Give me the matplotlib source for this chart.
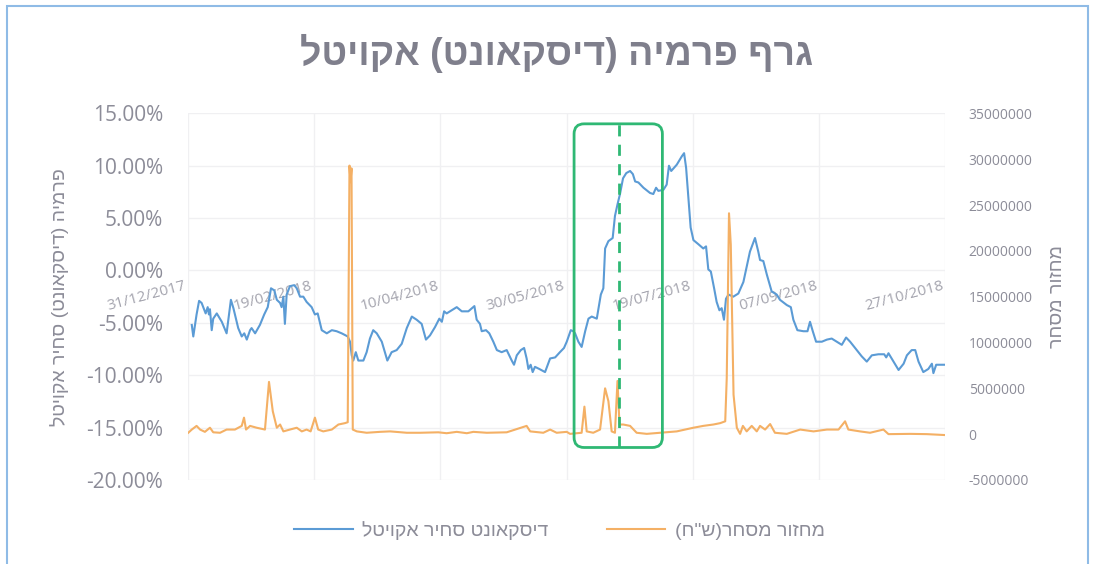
import matplotlib
matplotlib.use("Agg")
import matplotlib.pyplot as plt
from matplotlib.patches import FancyBboxPatch, Rectangle
import pandas as pd

# days after 31/12/2017 and premium/discount (%)
blue_days = [1.5, 2.1, 3.4, 4.4, 5.4, 7.0, 7.8, 8.3, 8.7, 9.4, 10.0, 11.4, 13.4, 15.3, 17.0, 18.0,
             19.9, 21.3, 22.3, 23.3, 24.6, 25.2, 26.6, 28.5, 30.2, 31.6, 32.9, 34.2, 35.2, 36.5,
             37.1, 37.8, 38.4, 39.1, 40.4, 42.1, 43.1, 44.4, 45.7, 47.0, 49.0, 50.3, 51.4, 53.0,
             55.0, 57.0, 58.9, 60.9, 63.3, 64.2, 64.9, 65.5, 66.5, 67.5, 69.5, 70.8, 72.1, 73.4,
             74.8, 76.8, 77.4, 79.0, 80.7, 82.7, 84.7, 86.7, 88.7, 90.6, 92.6, 94.3, 95.9, 97.9,
             99.6, 100.6, 101.5, 102.5, 104.5, 106.5, 108.5, 111.1, 113.5, 114.4, 115.7, 116.4,
             118.1, 119.4, 121.0, 122.4, 124.3, 126.3, 128.3, 129.2, 130.3, 131.9, 133.2, 134.2,
             134.9, 135.8, 136.6, 137.5, 139.2, 141.5, 143.5, 145.5, 147.4, 149.0, 150.1, 151.7,
             152.7, 153.4, 154.7, 156.0, 157.4, 158.7, 160.0, 162.0, 163.6, 164.6, 165.3, 166.6,
             168.3, 169.2, 170.2, 171.2, 172.4, 173.7, 175.2, 176.3, 177.2, 178.5, 180.5, 183.1,
             184.4, 185.5, 186.4, 188.4, 189.7, 190.6, 191.5, 193.7, 195.7, 196.6, 197.4, 198.3,
             199.2, 200.3, 202.3, 204.2, 205.3, 206.2, 207.2, 208.5, 209.5, 210.6, 211.5, 212.4,
             213.2, 214.2, 216.1, 218.1, 220.1, 222.7, 224.7, 226.0, 226.7, 228.0, 229.4, 231.3,
             233.3, 234.6, 237.3, 238.9, 239.9, 241.5, 243.9, 245.5, 246.5, 247.6, 248.9, 251.2,
             253.2, 255.1, 257.1, 259.1, 260.8, 262.4, 265.0, 267.0, 269.0, 271.0, 273.6, 275.9,
             276.7, 277.6, 279.6, 281.6, 283.6, 284.9, 286.8, 288.2, 289.5, 291.4, 293.4, 294.8,
             295.4, 296.5, 298.1, 300.0]
premium = [-5.2, -6.3, -4.2, -2.9, -3.1, -4.1, -3.5, -4.2, -3.7, -5.7, -4.6, -4.1, -4.9, -6.0, -2.8, -3.6,
           -5.5, -6.3, -6.0, -6.6, -5.7, -5.5, -6.0, -5.2, -4.2, -3.5, -1.7, -1.9, -2.8, -3.1,
           -3.5, -2.5, -5.1, -2.3, -1.5, -1.4, -1.7, -2.5, -2.5, -3.0, -3.5, -4.2, -4.1, -5.7,
           -6.0, -5.7, -5.8, -6.0, -6.3, -6.8, -8.1, -8.6, -7.8, -8.6, -8.6, -7.8, -6.5, -5.7,
           -6.0, -6.8, -7.3, -8.6, -7.8, -7.6, -7.0, -5.5, -4.4, -4.7, -5.1, -6.6, -6.2, -5.4,
           -4.6, -4.9, -3.9, -4.1, -3.8, -3.5, -3.9, -3.9, -3.4, -4.7, -5.1, -5.8,
           -5.7, -6.0, -6.8, -7.6, -7.8, -7.6, -8.6, -9.0, -8.1, -7.6, -7.4, -8.4,
           -9.4, -9.0, -9.7, -9.2, -9.4, -9.7, -8.4, -8.3, -7.8, -7.4, -6.8, -5.7,
           -5.8, -6.0, -6.8, -7.3, -5.8, -4.6, -4.4, -4.6, -2.3, -1.7, 2.1, 2.8,
           3.1, 5.2, 6.3, 7.3, 8.8, 9.3, 9.5, 9.2, 8.5, 8.4, 7.9, 7.4,
           7.3, 7.9, 7.6, 7.7, 8.2, 10.0, 9.5, 10.1, 10.9, 11.2, 9.8, 6.9,
           4.1, 2.9, 2.5, 2.1, 2.3, 0.1, -0.1, -1.7, -3.0, -3.8, -3.6, -4.7,
           -2.7, -2.3, -2.5, -2.2, -1.1, 1.8, 3.1, 1.8, 1.0, 0.9, -0.4, -2.0,
           -2.3, -2.8, -3.3, -3.5, -4.7, -5.7, -5.8, -5.8, -4.9, -5.8, -6.8, -6.8,
           -6.6, -6.5, -6.8, -7.1, -6.4, -6.8, -7.6, -8.2, -8.7, -8.1, -8.0, -8.0,
           -8.3, -7.9, -8.7, -9.5, -8.9, -8.1, -7.6, -7.6, -8.7, -9.7, -9.4, -8.9,
           -9.8, -9.0, -9.0, -9.0]

# days after 31/12/2017 and turnover (millions of shekels)
orange_days = [0.1, 1.5, 3.4, 4.8, 6.7, 8.7, 10.0, 12.7, 15.3, 18.6, 21.3, 22.2, 23.0, 24.6, 27.2,
               30.5, 32.1, 33.6, 35.2, 36.5, 37.8, 40.4, 43.1, 45.1, 47.0, 48.6, 50.3, 51.6, 53.6,
               57.0, 59.6, 62.2, 63.3, 64.0, 64.4, 64.8, 65.3, 66.9, 70.8, 76.1, 80.1, 86.7, 92.0,
               99.2, 102.5, 106.5, 110.5, 113.1, 118.4, 126.3, 134.2, 135.6, 140.8, 143.5, 146.1,
               150.1, 151.4, 156.0, 157.1, 158.0, 160.6, 163.3, 165.3, 166.6, 167.9, 169.2, 170.2,
               171.0, 172.5, 175.2, 177.8, 181.8, 187.1, 193.7, 200.3, 204.2, 208.2, 210.9, 212.9,
               213.5, 214.4, 215.1, 216.2, 217.5, 218.8, 219.9, 221.4, 223.4, 225.4, 226.7, 228.7,
               230.7, 232.6, 237.3, 242.6, 247.9, 253.2, 257.8, 260.4, 261.7, 266.3, 270.3, 275.6,
               277.6, 286.2, 292.8, 300.0]
turnover = [0.15, 0.5, 0.9, 0.5, 0.25, 0.7, 0.2, 0.15, 0.5, 0.5, 0.9, 1.8, 0.5, 0.9, 0.7,
            0.5, 5.7, 2.5, 0.7, 1.05, 0.3, 0.5, 0.7, 0.3, 0.5, 0.3, 1.8, 0.5, 0.3,
            0.5, 1.05, 1.2, 1.3, 29.3, 27.5, 29.0, 0.5, 0.3, 0.15, 0.25, 0.3, 0.15, 0.15,
            0.2, 0.1, 0.25, 0.1, 0.25, 0.15, 0.2, 0.9, 0.3, 0.15, 0.5, 0.15,
            0.25, 0.03, 0.15, 3.0, 0.3, 0.15, 0.5, 5.0, 3.6, 0.3, 0.15, 5.8,
            1.05, 1.05, 0.9, 0.15, 0.03, 0.15, 0.3, 0.7, 0.9, 1.05, 1.2, 1.4,
            6.1, 24.1, 20.7, 4.3, 0.7, 0.03, 0.9, 0.3, 0.9, 0.3, 0.9, 0.5,
            1.1, 0.15, 0.03, 0.5, 0.3, 0.5, 0.5, 1.4, 0.5, 0.3, 0.15, 0.5,
            0.0, 0.03, 0.0, -0.1]

date_ticks = ["31/12/2017", "19/02/2018", "10/04/2018", "30/05/2018",
              "19/07/2018", "07/09/2018", "27/10/2018"]
left_ticks = [15, 10, 5, 0, -5, -10, -15, -20]
right_ticks = [35, 30, 25, 20, 15, 10, 5, 0, -5]

title = "גרף פרמיה (דיסקאונט) אקויטל"
left_label = "פרמיה (דיסקאונט) סחיר אקויטל"
right_label = "מחזור מסחר"
blue_name = "דיסקאונט סחיר אקויטל"
orange_name = 'מחזור מסחר(ש"ח)'

# highlighted window and event
box_start, box_end = "2018-06-02", "2018-07-07"
event_date = "2018-06-20"


def heb(s):
    # matplotlib has no bidi, so put the Hebrew into visual order
    return s[::-1].translate(str.maketrans("()", ")("))


start = pd.Timestamp("2017-12-31")
bx = start + pd.to_timedelta(blue_days, unit="D")
ox = start + pd.to_timedelta(orange_days, unit="D")

txt = "#8c8c98"
hfont = "Liberation Sans"
plt.rcParams["font.family"] = ["Open Sans", "DejaVu Sans"]

fig = plt.figure(figsize=(10.93, 5.64), dpi=100)
ax = fig.add_axes([0.172, 0.149, 0.6926, 0.650])
ax2 = ax.twinx()

ax.plot(bx, premium, color="#5b9bd5", lw=1.5)
ax2.plot(ox, [t * 1e6 for t in turnover], color="#f4b065", lw=1.5)

ax.set_xlim(start, start + pd.Timedelta(days=300))
ax.set_ylim(-20, 15)
ax2.set_ylim(-5e6, 35e6)

# date labels hang from the 0% line (set spine position before the labels)
ax.spines["bottom"].set_position(("data", 0))

ax.set_yticks(left_ticks)
ax.set_yticklabels([f"{v:.2f}%" for v in left_ticks], fontsize=15, color=txt)
ax2.set_yticks([v * 1e6 for v in right_ticks])
ax2.set_yticklabels([f"{v * 1000000}" for v in right_ticks], fontsize=10, color=txt)
ax.tick_params(axis="y", length=0, pad=18)
ax2.tick_params(axis="y", length=0, pad=17)

tick_dates = [pd.to_datetime(d, format="%d/%m/%Y") for d in date_ticks]
ax.set_xticks(tick_dates)
ax.set_xticklabels(date_ticks)
ax.tick_params(axis="x", length=0, pad=6, labelsize=11, labelcolor="#a4a4ae",
               labelrotation=15)
for lab in ax.get_xticklabels():
    lab.set_ha("right")
    lab.set_va("top")

for a in (ax, ax2):
    for s in a.spines.values():
        s.set_visible(False)
ax.grid(True, color="#f0f0f2", lw=1)
ax.set_axisbelow(True)

ax.set_ylabel(heb(left_label), family=hfont, fontsize=14, color=txt, labelpad=12)
ax2.set_ylabel(heb(right_label), family=hfont, fontsize=14, color=txt, rotation=90, labelpad=12)

# green highlight box and dashed event line
x0 = pd.Timestamp(box_start)
x1 = pd.Timestamp(box_end)
dx = (x1 - x0).days
box = FancyBboxPatch((matplotlib.dates.date2num(x0), -16.9), dx, 30.9,
                     boxstyle="round,pad=0,rounding_size=4", mutation_aspect=0.24,
                     fill=False, ec="#2fb874", lw=2, transform=ax.transData, clip_on=False, zorder=5)
ax2.add_patch(box)
ax2.plot([pd.Timestamp(event_date)] * 2, [-16.9, 14.0], transform=ax.transData,
         color="#2fb874", lw=2, ls=(0, (4, 3)), zorder=5, clip_on=False)

fig.text(0.509, 0.905, heb(title), family=hfont, fontweight="bold", fontsize=27,
         color="#7f7f8c", ha="center", va="center")

lines = ax.get_lines() + ax2.get_lines()[:1]
fig.legend(lines, [heb(blue_name), heb(orange_name)], loc="center", ncol=2,
           bbox_to_anchor=(0.512, 0.06), frameon=False, prop={"family": hfont, "size": 14},
           labelcolor=txt, handlelength=3, handletextpad=0.5, columnspacing=3)

fig.patches.append(Rectangle((0.006, -0.01), 0.989, 1.0, transform=fig.transFigure,
                             fill=False, ec="#8fbbe6", lw=1.5))

fig.savefig("out.png", dpi=100, facecolor="white")
